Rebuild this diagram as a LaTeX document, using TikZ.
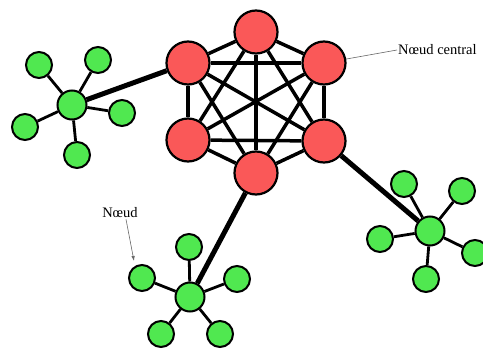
\documentclass[tikz,border=0pt]{standalone}
\usepackage{fontspec}
\setmainfont{Liberation Serif}
\usetikzlibrary{arrows.meta}

\definecolor{corered}{RGB}{250,88,88}
\definecolor{leafgreen}{RGB}{80,232,80}

\begin{document}
\begin{tikzpicture}[
  x=1pt, y=-1pt,
  cnode/.style={draw,circle,fill=corered,line width=2.2pt,minimum size=43pt,inner sep=0pt},
  hnode/.style={draw,circle,fill=leafgreen,line width=2pt,minimum size=29pt,inner sep=0pt},
  lnode/.style={draw,circle,fill=leafgreen,line width=2pt,minimum size=26pt,inner sep=0pt},
  core/.style={line width=3.5pt},
  link/.style={line width=5pt},
  spoke/.style={line width=2.8pt},
  pointer/.style={draw=gray!80!black,line width=0.6pt},
  note/.style={font=\fontsize{14.5}{16}\selectfont,inner sep=1pt}
]
  \useasboundingbox (0,0) rectangle (483,351);

  % central nodes
  \node[cnode] (c1) at (256,32) {};
  \node[cnode] (c2) at (188,63) {};
  \node[cnode] (c3) at (324,63) {};
  \node[cnode] (c4) at (188,140) {};
  \node[cnode] (c5) at (324,141) {};
  \node[cnode] (c6) at (256,173) {};

  % left cluster
  \node[hnode] (la) at (72,105) {};
  \node[lnode] (la1) at (39,65) {};
  \node[lnode] (la2) at (98,60) {};
  \node[lnode] (la3) at (122,113) {};
  \node[lnode] (la4) at (25,127) {};
  \node[lnode] (la5) at (77,155) {};

  % bottom cluster
  \node[hnode] (lb) at (190,297) {};
  \node[lnode] (lb1) at (189,247) {};
  \node[lnode] (lb2) at (142,278) {};
  \node[lnode] (lb3) at (237,279) {};
  \node[lnode] (lb4) at (161,334) {};
  \node[lnode] (lb5) at (220,334) {};

  % right cluster
  \node[hnode] (lr) at (430,231) {};
  \node[lnode] (lr1) at (404,184) {};
  \node[lnode] (lr2) at (462,191) {};
  \node[lnode] (lr3) at (380,239) {};
  \node[lnode] (lr4) at (475,253) {};
  \node[lnode] (lr5) at (426,279) {};

  % labels
  \node[note,anchor=west] (central) at (397,50) {Nœud central};
  \node[note] (noeud) at (120,213) {Nœud};
  \coordinate (tip) at (134,261);

  % core edges
  \draw[core] (c1) edge (c2) edge (c3) edge (c4) edge (c5) edge (c6);
  \draw[core] (c2) edge (c3) edge (c4) edge (c5) edge (c6);
  \draw[core] (c3) edge (c4) edge (c5) edge (c6);
  \draw[core] (c4) edge (c5) edge (c6);
  \draw[core] (c5) edge (c6);

  % links to clusters
  \draw[link] (la) -- (c2);
  \draw[link] (lb) -- (c6);
  \draw[link] (lr) -- (c5);

  % spokes
  \draw[spoke] (la) edge (la1) edge (la2) edge (la3) edge (la4) edge (la5);
  \draw[spoke] (lb) edge (lb1) edge (lb2) edge (lb3) edge (lb4) edge (lb5);
  \draw[spoke] (lr) edge (lr1) edge (lr2) edge (lr3) edge (lr4) edge (lr5);

  % pointers
  \draw[pointer] (c3) -- (central.west);
  \draw[pointer,-{Latex[length=5pt,width=3.5pt]}] ([xshift=6pt]noeud.south) -- (tip);

\end{tikzpicture}
\end{document}
